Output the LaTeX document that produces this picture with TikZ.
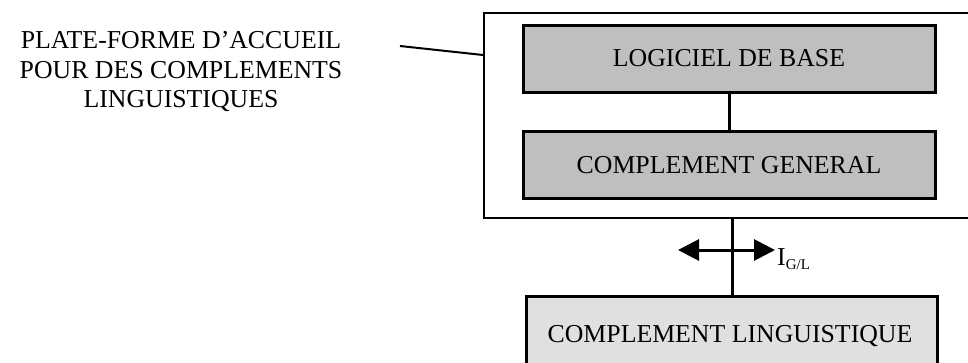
\documentclass[tikz,border=0pt]{standalone}
\usepackage{fontspec}
\setmainfont{Liberation Serif}
\usetikzlibrary{arrows.meta}
\begin{document}
\begin{tikzpicture}[x=1pt,y=-1pt,
  txt/.style={font=\fontsize{25.8}{29.5}\selectfont},
  darkbox/.style={draw=black, line width=3pt, fill=black!25, minimum width=412pt, minimum height=67pt, inner sep=0pt, txt},
  lightbox/.style={draw=black, line width=3pt, fill=black!12, minimum width=411pt, minimum height=110pt, inner sep=0pt},
  conn/.style={draw=black, line width=3pt},
  dbl/.style={draw=black, line width=3pt, {Triangle[length=21pt,width=21pt]}-{Triangle[length=21pt,width=21pt]}}
]
\clip (0,0) rectangle (968,362);
\fill[white] (0,0) rectangle (968,362);
% outer frame
\node[draw=black, line width=2pt, minimum width=520pt, minimum height=205pt, inner sep=0pt, anchor=north west] (plat) at (483,12) {};
% inner boxes
\node[darkbox] (base) at (729,58.5) {LOGICIEL DE BASE};
\node[darkbox] (gen) at (729,165) {COMPLEMENT GENERAL};
\node[lightbox, anchor=north] (ling) at (731.5,295) {};
\node[txt, anchor=base, inner sep=0pt] (lingtxt) at (730,342) {COMPLEMENT LINGUISTIQUE};
% side label
\node[txt, align=center, inner sep=0pt] (lbl) at (181,72) {PLATE-FORME D'ACCUEIL\\POUR DES COMPLEMENTS\\LINGUISTIQUES};
\coordinate (leadstart) at (400,46);
\draw[conn, line width=2pt] (leadstart) -- (plat.west |- 0,55);
% connectors
\draw[conn] (base.south) -- (gen.south |- gen.north);
\coordinate (top) at (732,217);
\coordinate (bot) at (732,295);
\draw[conn] (top) -- (bot);
\coordinate (al) at (678,250);
\coordinate (ar) at (775,250);
\draw[dbl] (al) -- (ar);
\node[txt, anchor=base west, inner sep=0pt] (ilab) at (777,265) {I\raisebox{-4pt}{\fontsize{15}{15}\selectfont G/L}};
\end{tikzpicture}
\end{document}
